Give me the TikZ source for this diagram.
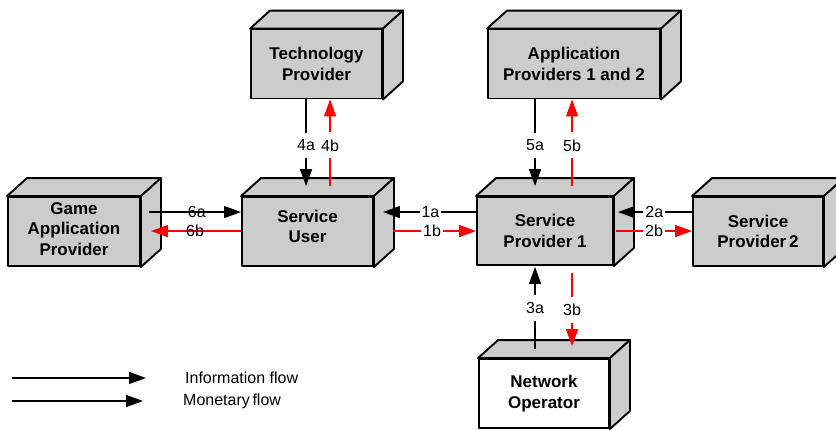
\documentclass[tikz,border=0pt]{standalone}
\usepackage{fontspec}
\setmainfont{Liberation Sans}
\usetikzlibrary{calc,arrows.meta}

\definecolor{boxgray}{RGB}{204,204,204}
\definecolor{flowred}{RGB}{255,0,0}

\tikzset{
  face/.style={draw=black, line width=1.9pt, line join=round},
  boxfont/.style={font=\bfseries\fontsize{17}{20.5}\selectfont},
  frontbox/.style={face, fill=boxgray, minimum height=69pt, inner sep=0pt,
    align=center, boxfont},
  boxtext/.style={inner sep=0pt, align=center, boxfont},
  infoflow/.style={draw=black, line width=1.4pt,
    -{Triangle[length=17pt,width=12pt]}},
  moneyflow/.style={infoflow, draw=flowred},
  flowlabel/.style={fill=white, inner xsep=2pt, inner ysep=7pt,
    font=\fontsize{16}{19}\selectfont, text=black},
  barelabel/.style={inner sep=0pt, font=\fontsize{16}{19}\selectfont, text=black},
  legendtext/.style={anchor=west, inner sep=0pt, font=\fontsize{16}{19}\selectfont},
}

% top and right faces of a box whose front face is node #1
\newcommand\boxdepth[2]{%
  \draw[face, fill=#2] (#1.north west) -- ++(20,-18)
    -- ($(#1.north east)+(20,-18)$) -- (#1.north east) -- cycle;
  \draw[face, fill=#2] (#1.north east) -- ++(20,-18)
    -- ($(#1.south east)+(20,-18)$) -- (#1.south east) -- cycle;
}

\begin{document}
\begin{tikzpicture}[x=1pt, y=-1pt]
\useasboundingbox (0,0) rectangle (836,429);
\clip (0,0) rectangle (836,429);

% boxes
\node[frontbox, minimum width=131pt] (tp)  at (316.5,64)  {Technology\\Provider};
\node[frontbox, minimum width=172pt] (app) at (574,64)    {Application\\Providers 1 and 2};
\node[frontbox, minimum width=132pt] (gap) at (74,231.5)  {};
\node[frontbox, minimum width=131pt] (su)  at (307.5,231.5) {};
\node[frontbox, minimum width=136pt, minimum height=68pt] (sp1) at (545,231) {Service\\Provider 1};
\node[frontbox, minimum width=130pt] (sp2) at (758,231.5) {Service\\Provider\,2};
\node[frontbox, minimum width=130pt, fill=white] (no) at (544,393.5) {Network\\Operator};

% captions sitting a little above the centre of their boxes
\node[boxtext] (gap-text) at ($(gap.center)+(0,-2.5)$) {Game\\Application\\Provider};
\node[boxtext] (su-text)  at ($(su.center)+(0,-5)$) {Service\\User};

\boxdepth{tp}{boxgray}
\boxdepth{app}{boxgray}
\boxdepth{gap}{boxgray}
\boxdepth{su}{boxgray}
\boxdepth{sp1}{boxgray}
\boxdepth{sp2}{boxgray}
\boxdepth{no}{boxgray}

% technology provider <-> service user
\draw[infoflow] ($(tp.south west)+(56,0)$) -- node[flowlabel, pos=0.53] (l4a) {4a}
  ($(su.north west)+(65,-10)$);
\draw[moneyflow] ($(su.north west)+(89,-10)$) -- node[flowlabel, pos=0.47] (l4b) {4b}
  ($(tp.south west)+(80,0)$);

% application providers <-> service provider 1
\draw[infoflow] ($(app.south west)+(48,0)$) -- node[flowlabel, pos=0.53] (l5a) {5a}
  ($(sp1.north west)+(59,-10)$);
\draw[moneyflow] ($(sp1.north west)+(96,-10)$) -- node[flowlabel, pos=0.47] (l5b) {5b}
  ($(app.south west)+(85,0)$);

% network operator <-> service provider 1
\draw[infoflow] ($(no.north west)+(57,-9)$) -- node[flowlabel, pos=0.5] (l3a) {3a}
  ($(sp1.south west)+(59,1)$);
\draw[moneyflow] ($(sp1.south west)+(96,7)$) -- node[flowlabel, pos=0.51] (l3b) {3b}
  ($(no.north west)+(94,-12)$);

% game application provider <-> service user
\draw[infoflow] ($(gap.north east)+(8,16)$) -- node[barelabel, pos=0.52] (l6a) {6a}
  ($(su.north west)+(0,16)$);
\draw[moneyflow] ($(su.north west)+(0,35)$) -- node[barelabel, pos=0.51] (l6b) {6b}
  ($(gap.north east)+(10,35)$);

% service provider 1 <-> service user
\draw[infoflow] ($(sp1.north west)+(0,16)$) -- node[flowlabel, pos=0.49] (l1a) {1a}
  ($(su.north east)+(9,16)$);
\draw[moneyflow] ($(su.north east)+(19,35)$) -- node[flowlabel, pos=0.47] (l1b) {1b}
  ($(sp1.north west)+(0,35)$);

% service provider 2 <-> service provider 1
\draw[infoflow] ($(sp2.north west)+(0,16)$) -- node[flowlabel, pos=0.51] (l2a) {2a}
  ($(sp1.north east)+(4,16)$);
\draw[moneyflow] ($(sp1.north east)+(2,35)$) -- node[flowlabel, pos=0.5] (l2b) {2b}
  ($(sp2.north west)+(0,35)$);

% legend
\coordinate (info-start) at (12,378);
\coordinate (info-end) at (146,378);
\coordinate (money-start) at (12,401);
\coordinate (money-end) at (143,401);
\draw[infoflow] (info-start) -- (info-end);
\draw[infoflow] (money-start) -- (money-end);
\node[legendtext] (info-text) at (185,378) {Information flow};
\node[legendtext] (money-text) at (183,401) {Monetary\,flow};
\end{tikzpicture}
\end{document}
